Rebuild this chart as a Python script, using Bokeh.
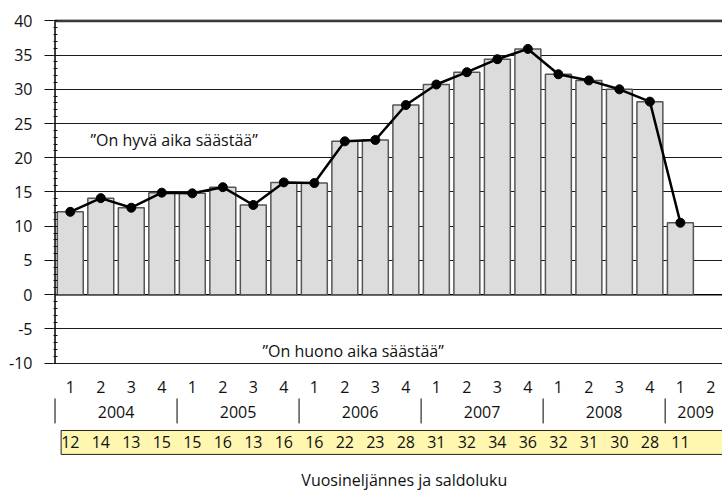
from bokeh.plotting import figure
from bokeh.models import FixedTicker, Range1d
from bokeh.core.properties import value
from bokeh.embed import file_html
from bokeh.resources import INLINE

# ---- data ----
quarters = ["1", "2", "3", "4", "1", "2", "3", "4", "1", "2", "3", "4",
            "1", "2", "3", "4", "1", "2", "3", "4", "1", "2"]
years = ["2004", "2005", "2006", "2007", "2008", "2009"]
year_quarters = [4, 4, 4, 4, 4, 2]
saldo = [12.1, 14.1, 12.7, 14.9, 14.8, 15.7, 13.1, 16.4, 16.3, 22.4, 22.6, 27.7,
         30.7, 32.5, 34.4, 35.9, 32.2, 31.3, 30.0, 28.2, 10.5]
saldo_labels = ["12", "14", "13", "15", "15", "16", "13", "16", "16", "22", "23", "28",
                "31", "32", "34", "36", "32", "31", "30", "28", "11"]
y_ticks = [-10, -5, 0, 5, 10, 15, 20, 25, 30, 35, 40]
y_minor = list(range(-10, 41))
text_good = "\u201dOn hyvä aika säästää\u201d"
text_bad = "\u201dOn huono aika säästää\u201d"
x_title = "Vuosineljännes ja saldoluku"

FONT = "Open Sans"
FS = "16px"

n_cat = len(quarters)
centers = [i + 0.5 for i in range(n_cat)]
bar_x = centers[:len(saldo)]

p = figure(width=722, height=490,
           x_range=Range1d(-0.05, 21.88), y_range=Range1d(-28.62, 40.2),
           output_backend="svg", toolbar_location=None,
           min_border_left=53, min_border_right=0, min_border_top=19, min_border_bottom=0,
           x_axis_location=None)
p.outline_line_color = None
p.background_fill_color = "white"
p.border_fill_color = "white"

# y axis
yax = p.yaxis[0]
yax.ticker = FixedTicker(ticks=y_ticks, minor_ticks=y_minor)
yax.major_label_overrides = {t: str(t) for t in y_ticks}
yax.axis_line_color = None
yax.major_tick_out = 9
yax.major_tick_in = 0
yax.major_tick_line_color = "#111111"
yax.minor_tick_in = 4
yax.minor_tick_out = 0
yax.minor_tick_line_color = "#111111"
yax.major_label_standoff = 12
yax.major_label_text_font = FONT
yax.major_label_text_font_size = FS
yax.major_label_text_color = "#111111"

# grid
p.ygrid.ticker = FixedTicker(ticks=y_ticks)
p.ygrid.grid_line_color = "#1a1a1a"
p.ygrid.grid_line_width = 1
p.xgrid.visible = False

# axis line and emphasized lines
p.segment(x0=[0], x1=[0], y0=[min(y_ticks)], y1=[max(y_ticks)], line_color="black", line_width=1.5)
p.segment(x0=[0], x1=[n_cat + 1], y0=[max(y_ticks)], y1=[max(y_ticks)], line_color="#3a3a3a", line_width=3)
p.segment(x0=[0], x1=[n_cat + 1], y0=[0], y1=[0], line_color="black", line_width=1.5)

# bars
p.vbar(x=bar_x, top=saldo, bottom=0, width=0.85,
       fill_color="#dcdcdc", line_color="#555555", line_width=1.5)

# line with markers
p.line(x=bar_x, y=saldo, line_color="black", line_width=2.5)
p.scatter(x=bar_x, y=saldo, size=9, fill_color="black", line_color="black")

# annotations in chart
p.text(x=[1.16], y=[22.66], text=[text_good], text_font=value(FONT), text_font_size=value(FS),
       text_align="left", text_baseline="middle", text_color="#111111")
p.text(x=[6.8], y=[-8.17], text=[text_bad], text_font=value(FONT), text_font_size=value(FS),
       text_align="left", text_baseline="middle", text_color="#111111")

# quarter labels
p.text(x=centers, y=[-13.56] * n_cat, text=quarters, text_font=value(FONT), text_font_size=value(FS),
       text_align="center", text_baseline="middle", text_color="#111111")

# year labels and separators
starts = []
s = 0
for q in year_quarters:
    starts.append(s)
    s += q
year_centers = [st + q / 2 for st, q in zip(starts, year_quarters)]
p.text(x=year_centers, y=[-17.22] * len(years), text=years, text_font=value(FONT), text_font_size=value(FS),
       text_align="center", text_baseline="middle", text_color="#111111")
p.segment(x0=starts, x1=starts, y0=[-15.17] * len(starts), y1=[-18.82] * len(starts),
          line_color="black", line_width=1)

# value table
p.quad(left=[0.2], right=[n_cat + 1], top=[-19.85], bottom=[-23.35],
       fill_color="#fff6b0", line_color="#222222", line_width=1)
p.text(x=bar_x, y=[-21.6] * len(saldo), text=saldo_labels, text_font=value(FONT), text_font_size=value(FS),
       text_align="center", text_baseline="middle", text_color="#111111")

# x title
p.text(x=[11.45], y=[-27.15], text=[x_title], text_font=value(FONT), text_font_size=value(FS),
       text_align="center", text_baseline="middle", text_color="#111111")

open("out.html", "w").write(file_html(p, INLINE))
